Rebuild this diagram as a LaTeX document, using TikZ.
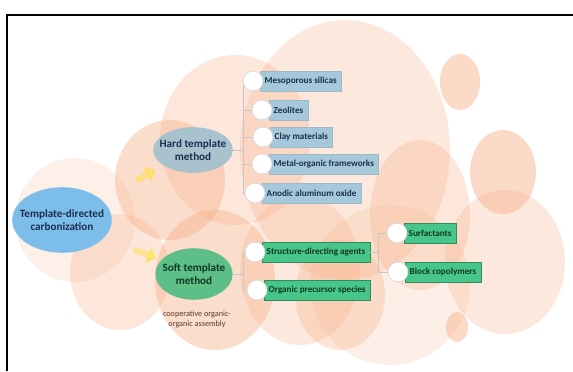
\documentclass[tikz,border=0pt]{standalone}
\usepackage{fontspec}
\setmainfont{Carlito}
\usetikzlibrary{positioning}
\usetikzlibrary{arrows.meta}
\usetikzlibrary{shapes}

\definecolor{peach}{HTML}{F6AE86}
\definecolor{tdcblue}{HTML}{7DBDEA}
\definecolor{hardblue}{HTML}{A8C3CE}
\definecolor{softgreen}{HTML}{5DBE87}
\definecolor{hitemblue}{HTML}{A5C8DA}
\definecolor{sitemgreen}{HTML}{48C588}
\definecolor{navy}{HTML}{1B2F4F}
\definecolor{darkgreen}{HTML}{0E3A22}
\definecolor{brownish}{HTML}{5A3A2C}

\pgfdeclarelayer{bubbles}
\pgfdeclarelayer{boxes}
\pgfsetlayers{bubbles,boxes,main}

\tikzset{
        methodnode/.style={ellipse, align=center, inner sep=-6pt, font=\fontsize{9.5}{11}\selectfont\bfseries},
        % Root node
        node_root/.style={methodnode, fill=tdcblue, text=navy, minimum width=85pt, minimum height=56pt},
        % Method nodes
        node_hard/.style={methodnode, fill=hardblue, text=navy, minimum width=68pt, minimum height=39pt},
        node_soft/.style={methodnode, fill=softgreen, text=darkgreen, minimum width=66pt, minimum height=44pt},
        % White bullets in front of the items
        node_bullet/.style={circle, fill=white, draw=gray!30, line width=0.6pt, minimum size=17pt, inner sep=0pt},
        % Item boxes
        node_item/.style={rectangle, inner xsep=4pt, minimum height=17pt, font=\fontsize{7.8}{9}\selectfont\bfseries},
        node_item_hard/.style={node_item, fill=hitemblue, draw=hitemblue!80!gray, text=navy},
        node_item_soft/.style={node_item, fill=sitemgreen, draw=sitemgreen!70!black, text=darkgreen},
        % Note under soft template
        node_note/.style={align=center, font=\fontsize{7}{8.5}\selectfont, text=brownish}
}

\begin{document}
\begin{tikzpicture}[
            x=0.03cm, y=-0.03cm,
            link/.style={draw=gray!45, line width=0.5pt},
            yarrow/.style={-{Triangle[length=8pt,width=15pt]}, line width=5pt, draw=yellow!85!orange, opacity=0.35}
        ]
            \useasboundingbox (0,0) rectangle (573,371);

            % background bubbles
            \begin{pgfonlayer}{bubbles}
            \foreach \cx/\cy/\rx/\ry/\op in {
                345/150/105/130/0.28, 235/140/75/85/0.30, 75/220/60/62/0.18,
                120/272/50/58/0.30, 170/180/55/60/0.42, 215/280/60/70/0.42,
                300/270/60/75/0.28, 340/295/45/55/0.32, 390/285/80/80/0.20,
                505/262/60/72/0.28, 420/215/50/75/0.30, 503/172/33/42/0.45,
                460/82/20/28/0.45, 457/327/11/15/0.45}
                \fill[peach, opacity=\op] (\cx,\cy) ellipse [x radius=\rx, y radius=\ry];
            \end{pgfonlayer}

            % frame
            \draw[line width=1.6pt] (7,371) -- (7,15) -- (573,15);

            \node[node_root] (tdc) at (62,220) {Template-directed\\carbonization};
            \node[node_hard] (hard) at (193,150) {Hard template\\method};
            \node[node_soft] (soft) at (194,274) {Soft template\\method};
            \node[node_note] (note) at (197,319) {cooperative organic-\\organic assembly};

            \draw[yarrow, shorten <=34pt, shorten >=8pt] (tdc) -- (hard);
            \draw[yarrow, shorten <=27pt, shorten >=4pt] (tdc) -- (soft);

            % bullets
            \node[node_bullet] (hb1) at (253,81) {};
            \node[node_bullet] (hb2) at (262,110) {};
            \node[node_bullet] (hb3) at (263,137) {};
            \node[node_bullet] (hb4) at (262,164) {};
            \node[node_bullet] (hb5) at (255,193) {};
            \node[node_bullet] (sb1) at (255,252) {};
            \node[node_bullet] (sb2) at (257,290) {};
            \node[node_bullet] (sb3) at (397,233) {};
            \node[node_bullet] (sb4) at (398,272) {};

            \begin{pgfonlayer}{boxes}
            \node[node_item_hard, right=-3pt of hb1] (h1) {Mesoporous silicas};
            \node[node_item_hard, right=-3pt of hb2] (h2) {Zeolites};
            \node[node_item_hard, right=-3pt of hb3] (h3) {Clay materials};
            \node[node_item_hard, right=-3pt of hb4] (h4) {Metal-organic frameworks};
            \node[node_item_hard, right=-3pt of hb5] (h5) {Anodic aluminum oxide};
            \node[node_item_soft, right=-3pt of sb1] (s1) {Structure-directing agents};
            \node[node_item_soft, right=-3pt of sb2] (s2) {Organic precursor species};
            \node[node_item_soft, right=-3pt of sb3] (s3) {Surfactants};
            \node[node_item_soft, right=-3pt of sb4] (s4) {Block copolymers};

            \foreach \b in {hb1,hb2,hb3,hb4,hb5}
                \draw[link] (hard.east) -- ++(10,0) |- (\b);
            \foreach \b in {sb1,sb2}
                \draw[link] (soft.east) -- ++(10,0) |- (\b);
            \foreach \b in {sb3,sb4}
                \draw[link] (s1.east) -- ++(8,0) |- (\b);
            \end{pgfonlayer}
        \end{tikzpicture}
\end{document}
